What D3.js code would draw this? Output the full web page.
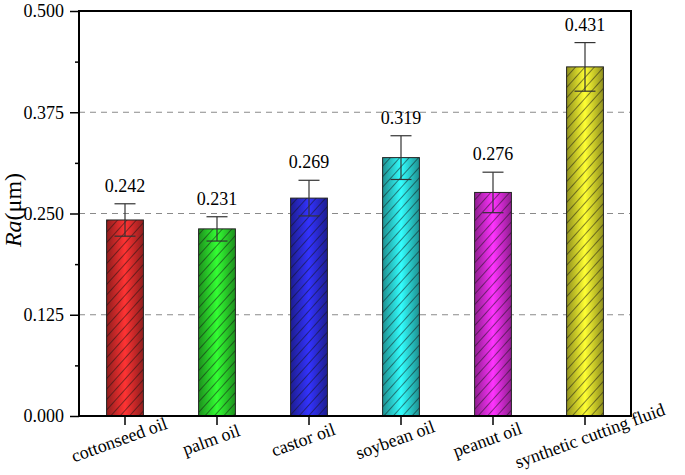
<!DOCTYPE html>
<html>
<head>
<meta charset="utf-8">
<script src="https://cdn.jsdelivr.net/npm/d3@7"></script>
<style>
    body { margin: 0; background: #fff; }
</style>
</head>
<body>
<svg id="chart"></svg>
<script>
const categories = ["cottonseed oil", "palm oil", "castor oil", "soybean oil", "peanut oil", "synthetic cutting fluid"];
const raValues = [0.242, 0.231, 0.269, 0.319, 0.276, 0.431];
const raErrors = [0.020, 0.015, 0.022, 0.027, 0.025, 0.030];
const barColors = ["#ff3333", "#33ff33", "#3333ff", "#33ffff", "#ff33ff", "#ffff33"];
const yTicks = [0, 0.125, 0.25, 0.375, 0.5];
const yMinorTicks = [0.0625, 0.1875, 0.3125, 0.4375];
const gridTicks = [0.125, 0.25, 0.375];

const SERIF = "Liberation Serif, DejaVu Serif, serif";

class RaBarChart {
    constructor(_config = {}, _data) {
        this.config = {
            parentElement: _config.parentElement,
            width: 685,
            height: 475,
            margin: { top: 11, right: 54, bottom: 59, left: 79 },
            barRatio: 0.4,
            capWidth: 21,
            tickFontSize: 18,
            labelFontSize: 18,
            titleFontSize: 24,
        }
        this.data = _data;
        this.initVis();
    }

    initVis() {
        let vis = this;
        vis.innerWidth = vis.config.width - vis.config.margin.left - vis.config.margin.right;
        vis.innerHeight = vis.config.height - vis.config.margin.top - vis.config.margin.bottom;

        vis.svg = d3.select(vis.config.parentElement)
            .attr('width', vis.config.width)
            .attr('height', vis.config.height)
            .attr('font-family', SERIF);

        vis.xScale = d3.scaleBand()
            .domain(categories)
            .range([0, vis.innerWidth])
            .padding(0);

        vis.yScale = d3.scaleLinear()
            .domain([0, 0.5])
            .range([vis.innerHeight, 0]);

        // gradient + hatch for each bar
        const defs = vis.svg.append('defs');
        vis.data.forEach((d, i) => {
            const c = d3.color(d.color);
            const grad = defs.append('linearGradient')
                .attr('id', 'grad' + i)
                .attr('x1', '0%').attr('x2', '100%')
                .attr('y1', '0%').attr('y2', '0%');
            grad.append('stop').attr('offset', '0%').attr('stop-color', c.darker(1.6));
            grad.append('stop').attr('offset', '50%').attr('stop-color', c);
            grad.append('stop').attr('offset', '100%').attr('stop-color', c.darker(1.6));
        });
        defs.append('pattern')
            .attr('id', 'hatch')
            .attr('patternUnits', 'userSpaceOnUse')
            .attr('width', 7)
            .attr('height', 7)
            .attr('patternTransform', 'rotate(42)')
            .append('line')
            .attr('x1', 0).attr('y1', 0)
            .attr('x2', 0).attr('y2', 7)
            .attr('stroke', '#111')
            .attr('stroke-width', 1);

        vis.chart = vis.svg.append('g')
            .attr('transform', `translate(${vis.config.margin.left}, ${vis.config.margin.top})`);

        vis.renderVis();
    }

    renderVis() {
        let vis = this;
        const bw = vis.xScale.bandwidth() * vis.config.barRatio;
        const cx = d => vis.xScale(d.category) + vis.xScale.bandwidth() / 2;

        // dashed grid
        vis.chart.selectAll('.grid')
            .data(gridTicks)
            .enter()
            .append('line')
            .attr('x1', 0).attr('x2', vis.innerWidth)
            .attr('y1', d => vis.yScale(d)).attr('y2', d => vis.yScale(d))
            .attr('stroke', '#8a8a8a')
            .attr('stroke-width', 1)
            .attr('stroke-dasharray', '6,5');

        // bars
        const bars = vis.chart.selectAll('.bar')
            .data(vis.data)
            .enter()
            .append('g');
        bars.append('rect')
            .attr('x', d => cx(d) - bw / 2)
            .attr('y', d => vis.yScale(d.value))
            .attr('width', bw)
            .attr('height', d => vis.innerHeight - vis.yScale(d.value))
            .attr('fill', (d, i) => `url(#grad${i})`);
        bars.append('rect')
            .attr('x', d => cx(d) - bw / 2)
            .attr('y', d => vis.yScale(d.value))
            .attr('width', bw)
            .attr('height', d => vis.innerHeight - vis.yScale(d.value))
            .attr('fill', 'url(#hatch)')
            .attr('stroke', '#222')
            .attr('stroke-width', 1);

        // error bars
        const half = vis.config.capWidth / 2;
        bars.append('line')
            .attr('x1', cx).attr('x2', cx)
            .attr('y1', d => vis.yScale(d.value + d.err))
            .attr('y2', d => vis.yScale(d.value - d.err))
            .attr('stroke', '#333').attr('stroke-width', 1.2);
        bars.append('line')
            .attr('x1', d => cx(d) - half).attr('x2', d => cx(d) + half)
            .attr('y1', d => vis.yScale(d.value + d.err))
            .attr('y2', d => vis.yScale(d.value + d.err))
            .attr('stroke', '#333').attr('stroke-width', 1.2);
        bars.append('line')
            .attr('x1', d => cx(d) - half).attr('x2', d => cx(d) + half)
            .attr('y1', d => vis.yScale(d.value - d.err))
            .attr('y2', d => vis.yScale(d.value - d.err))
            .attr('stroke', '#333').attr('stroke-width', 1.2);

        // value labels
        bars.append('text')
            .attr('x', cx)
            .attr('y', d => vis.yScale(d.value + d.err) - 12)
            .attr('text-anchor', 'middle')
            .attr('font-family', SERIF)
            .attr('font-size', vis.config.tickFontSize)
            .text(d => d.value.toFixed(3));

        // y axis
        const yAxis = vis.chart.append('g')
            .call(d3.axisLeft(vis.yScale).tickValues(yTicks).tickFormat(d3.format('.3f')).tickSize(9).tickPadding(6))
            .attr('font-family', SERIF)
            .attr('font-size', vis.config.tickFontSize);
        yAxis.selectAll('text').attr('fill', '#000');
        yAxis.selectAll('line').attr('stroke-width', 1.5);
        yAxis.select('.domain').remove();

        vis.chart.append('g')
            .call(d3.axisLeft(vis.yScale).tickValues(yMinorTicks).tickFormat('').tickSize(4))
            .call(g => g.select('.domain').remove())
            .selectAll('line').attr('stroke-width', 1.5);

        // x axis
        const xAxis = vis.chart.append('g')
            .attr('transform', `translate(0, ${vis.innerHeight})`)
            .call(d3.axisBottom(vis.xScale).tickSize(9).tickFormat(''));
        xAxis.selectAll('line').attr('stroke-width', 1.5);
        xAxis.select('.domain').remove();

        // slanted category labels; long ones get nudged along their baseline
        vis.chart.selectAll('.xlabel')
            .data(categories)
            .enter()
            .append('text')
            .attr('transform', d => `translate(${vis.xScale(d) + vis.xScale.bandwidth() / 2}, ${vis.innerHeight + 28}) rotate(-20)`)
            .attr('text-anchor', 'middle')
            .attr('font-family', SERIF)
            .attr('font-size', vis.config.labelFontSize)
            .text(d => d)
            .each(function () {
                const len = this.getComputedTextLength();
                d3.select(this).attr('dx', Math.max(0, (len - 120) * 0.3) - 4);
            });

        // frame
        vis.chart.append('rect')
            .attr('x', 0).attr('y', 0)
            .attr('width', vis.innerWidth)
            .attr('height', vis.innerHeight)
            .attr('fill', 'none')
            .attr('stroke', '#000')
            .attr('stroke-width', 2);

        // y title
        const title = vis.svg.append('text')
            .attr('transform', `translate(21, ${vis.config.margin.top + 199}) rotate(-90)`)
            .attr('text-anchor', 'middle')
            .attr('font-family', SERIF)
            .attr('font-size', vis.config.titleFontSize);
        title.append('tspan').attr('font-style', 'italic').text('Ra');
        title.append('tspan').text('(μm)');
    }
}

const rows = categories.map((c, i) => ({
    category: c,
    value: raValues[i],
    err: raErrors[i],
    color: barColors[i],
}));

new RaBarChart({ parentElement: '#chart' }, rows);
</script>
</body>
</html>
